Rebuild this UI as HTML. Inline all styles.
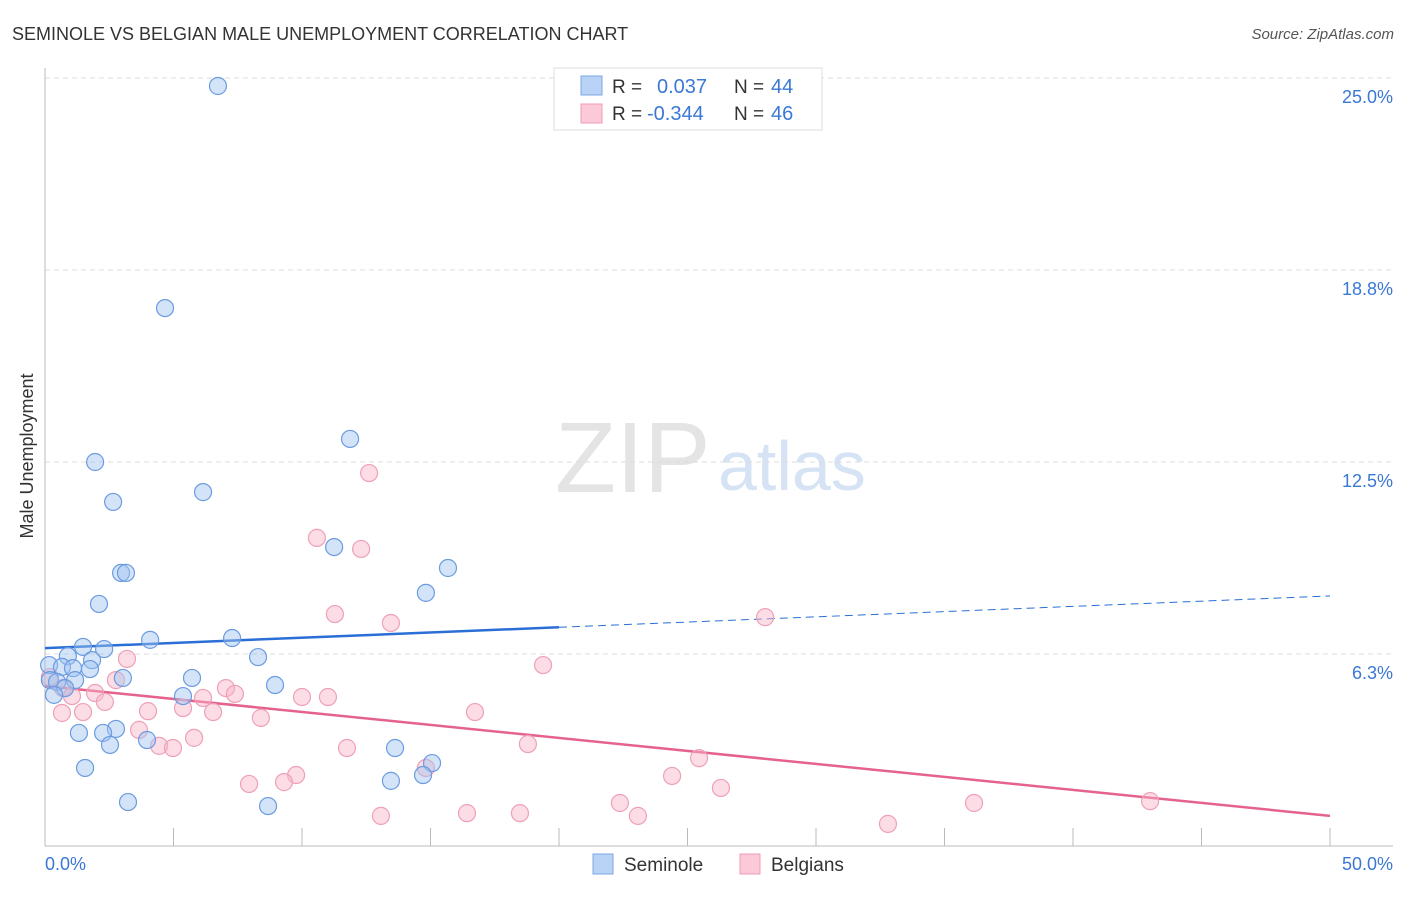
<!DOCTYPE html>
<html><head><meta charset="utf-8"><style>
body{margin:0;background:#fff;font-family:"Liberation Sans",sans-serif;}
svg text{font-family:"Liberation Sans",sans-serif;}
</style></head><body>
<svg id="c" width="1406" height="892" xmlns="http://www.w3.org/2000/svg">
<text x="12" y="40" font-size="18" fill="#333">SEMINOLE VS BELGIAN MALE UNEMPLOYMENT CORRELATION CHART</text>
<text x="1394" y="39" font-size="15" fill="#555" font-style="italic" text-anchor="end">Source: ZipAtlas.com</text>
<text x="33" y="456" font-size="18" fill="#333" text-anchor="middle" transform="rotate(-90 33 456)">Male Unemployment</text>
<text x="555" y="492" font-size="100" fill="#e4e4e4" font-family="Liberation Serif">ZIP</text>
<text x="718" y="490" font-size="70" fill="#d5e3f4">atlas</text>
<g id="grid"></g><g id="axes"></g><g id="trend"></g><g id="pts"></g>
<g>
<rect x="554" y="68" width="268" height="62" fill="#fff" stroke="#ddd"/>
<rect x="581" y="76" width="21" height="19" fill="#b8d3f5" stroke="#7aa8e6"/>
<rect x="581" y="104" width="21" height="19" fill="#fcc9d8" stroke="#f09ab4"/>
<text x="612" y="93" font-size="19" fill="#333">R =</text><text x="657" y="93" font-size="20" fill="#3a78d4">0.037</text>
<text x="734" y="93" font-size="19" fill="#333">N =</text><text x="771" y="93" font-size="20" fill="#3a78d4">44</text>
<text x="612" y="120" font-size="19" fill="#333">R =</text><text x="647" y="120" font-size="20" fill="#3a78d4">-0.344</text>
<text x="734" y="120" font-size="19" fill="#333">N =</text><text x="771" y="120" font-size="20" fill="#3a78d4">46</text>
</g>
<g>
<rect x="593" y="854" width="20" height="20" fill="#b8d3f5" stroke="#7aa8e6"/>
<text x="624" y="871" font-size="19" fill="#333">Seminole</text>
<rect x="740" y="854" width="20" height="20" fill="#fcc9d8" stroke="#f09ab4"/>
<text x="771" y="871" font-size="19" fill="#333">Belgians</text>
</g>
</svg>
<script>
const blueX=[6.73,4.67,11.87,1.95,6.15,2.65,11.25,15.68,2.96,3.15,14.82,2.10,4.09,7.28,1.48,2.30,0.89,8.29,1.83,0.16,0.66,1.09,1.75,5.72,3.03,0.19,0.47,1.17,0.78,8.95,0.35,5.37,2.76,2.26,1.32,3.97,2.53,13.62,15.06,1.56,14.71,13.46,3.23,8.68];
const blueY=[24.74,17.51,13.25,12.50,11.52,11.20,9.73,9.05,8.89,8.89,8.24,7.88,6.71,6.77,6.48,6.41,6.18,6.15,6.05,5.89,5.83,5.79,5.76,5.47,5.47,5.40,5.34,5.40,5.14,5.24,4.92,4.88,3.81,3.68,3.68,3.45,3.29,3.19,2.70,2.54,2.31,2.12,1.43,1.30];
const pinkX=[12.61,10.58,12.30,11.28,13.46,28.02,3.19,19.38,0.19,2.76,0.70,7.04,1.95,7.39,1.05,10.00,11.01,6.15,2.33,5.37,16.73,0.66,1.48,4.01,6.54,8.40,3.66,5.80,4.44,4.98,11.75,18.79,25.45,14.82,9.77,24.40,9.30,7.94,26.30,36.15,43.00,22.37,13.07,16.42,18.48,23.07,32.80];
const pinkY=[12.14,10.03,9.67,7.55,7.26,7.45,6.09,5.89,5.50,5.40,5.14,5.14,4.98,4.95,4.88,4.85,4.85,4.82,4.69,4.49,4.36,4.33,4.36,4.39,4.36,4.17,3.78,3.52,3.26,3.19,3.19,3.32,2.86,2.54,2.31,2.28,2.08,2.02,1.89,1.40,1.46,1.40,0.98,1.07,1.07,0.98,0.72];
const blueTrend=[6.44,8.14];
const pinkTrend=[5.21,0.98];
const yTicks=[25,18.75,12.5,6.25];
const yTickLabels=["25.0%","18.8%","12.5%","6.3%"];
const xTicks=[0,5,10,15,20,25,30,35,40,45,50];
const NS="http://www.w3.org/2000/svg";
const X=v=>45+v/50*1285, Y=v=>846-v/6.25*192;
function mk(p,t,a){const e=document.createElementNS(NS,t);for(const k in a)e.setAttribute(k,a[k]);document.getElementById(p).appendChild(e);return e;}
yTicks.forEach((t,i)=>{
 const g=mk('grid','line',{x1:45,x2:1393,y1:Y(t),y2:Y(t),stroke:'#ddd','stroke-dasharray':'5,4'});
 
 
 const l=mk('grid','text',{x:1393,y:Y(t)+25,'font-size':18,fill:'#3a78d4','text-anchor':'end'});l.textContent=yTickLabels[i];
 
 
});
const ya=mk('axes','line',{x1:45,x2:45,y1:68,y2:846,stroke:'#bbb'});


const xa=mk('axes','line',{x1:45,x2:1393,y1:846,y2:846,stroke:'#bbb'});


xTicks.forEach(t=>{const k=mk('axes','line',{x1:X(t),x2:X(t),y1:828,y2:846,stroke:'#bbb'});
 
 });
[[0,"0.0%",'start',45],[50,"50.0%",'end',1393]].forEach(a=>{const l=mk('axes','text',{x:a[3],y:870,'font-size':18,fill:'#3a78d4','text-anchor':a[2]});l.textContent=a[1];
 
 });
const b1=mk('trend','line',{x1:X(0),y1:Y(blueTrend[0]),x2:X(20),y2:Y(blueTrend[0]+(blueTrend[1]-blueTrend[0])*0.4),stroke:'#2a6fd6','stroke-width':2.5});


const b2=mk('trend','line',{x1:X(20),y1:Y(blueTrend[0]+(blueTrend[1]-blueTrend[0])*0.4),x2:X(50),y2:Y(blueTrend[1]),stroke:'#2a6fd6','stroke-width':1,'stroke-dasharray':'8,5'});


const p1=mk('trend','line',{x1:X(0),y1:Y(pinkTrend[0]),x2:X(50),y2:Y(pinkTrend[1]),stroke:'#e5628c','stroke-width':2.5});


pinkX.forEach((x,i)=>{const c=mk('pts','circle',{cx:X(x),cy:Y(pinkY[i]),r:8.5,fill:'rgba(248,180,200,0.45)',stroke:'#eea0b8','stroke-width':1.2});
 
 });
blueX.forEach((x,i)=>{const c=mk('pts','circle',{cx:X(x),cy:Y(blueY[i]),r:8.5,fill:'rgba(160,196,240,0.45)',stroke:'#6b9be0','stroke-width':1.2});
 
 });
</script>
</body></html>
